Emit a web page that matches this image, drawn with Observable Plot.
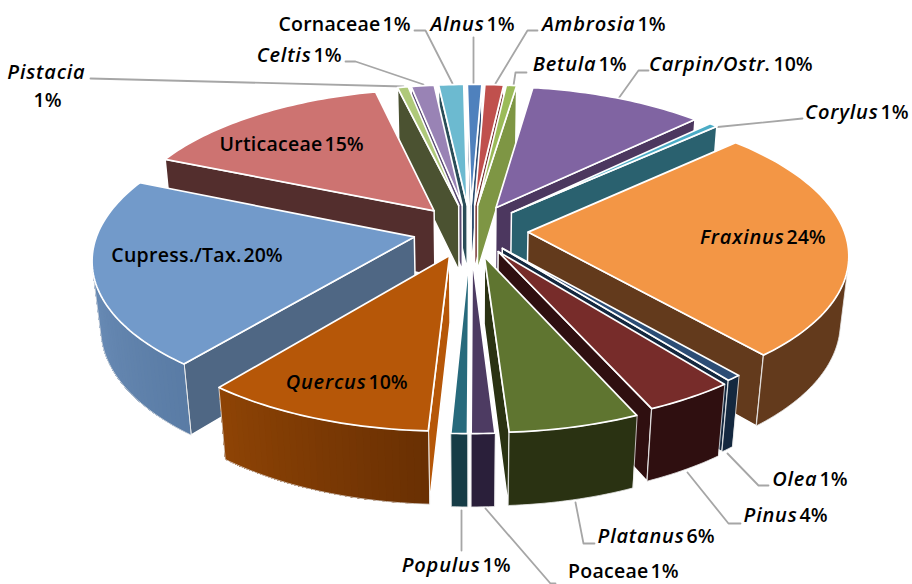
<!DOCTYPE html>
<html><head><meta charset="utf-8">
<script src="https://cdn.jsdelivr.net/npm/d3@7"></script>
<script src="https://cdn.jsdelivr.net/npm/@observablehq/plot@0.6"></script>
<style>html,body{margin:0;padding:0;background:#fff}svg{display:block}
.lbl-it text{letter-spacing:.8px}.lbl-pl text{letter-spacing:.25px}</style>
</head><body><div id="chart"></div>
<script>
// ---- data ----
const categories = ["Alnus","Ambrosia","Betula","Carpin/Ostr.","Corylus","Fraxinus","Olea","Pinus","Platanus","Poaceae","Populus","Quercus","Cupress./Tax.","Urticaceae","Pistacia","Celtis","Cornaceae"];
const shares = [0.85,1.1,0.6,10.25,0.5,25.6,0.65,3.9,5.65,1.0,0.7,10.0,20.55,14.85,0.63,1.35,1.47];
const percentLabels = ["1%","1%","1%","10%","1%","24%","1%","4%","6%","1%","1%","10%","20%","15%","1%","1%","1%"];
const italicNames = [true,true,true,true,true,true,true,true,true,false,true,true,false,false,true,true,false];
const explodeBy = [0.18,0.18,0.18,0.18,0.18,0.18,0.155,0.165,0.18,0.18,0.18,0.18,0.18,0.18,0.18,0.18,0.18];
// ---- styles ----
const topColors = ["#4f81bd","#c0504d","#9bbb59","#8064a2","#4bacc6","#f39645","#2c4d75","#772c2a","#5f7530","#4d3b62","#276a7c","#b65708","#729aca","#cd7371","#afc97a","#9983b5","#6cbad0"];
const sideColors = ["#2f4d71","#732f2e","#7e9644","#4c375f","#2a616f","#633a1c","#14283f","#2f0f10","#2a3212","#2a1f3a","#163c46","#b65708","#4f6784","#532e2d","#4b5231","#5a4a72","#2a4d58"];
const rimFrom = ["#2f4d71","#732f2e","#7e9644","#4c375f","#2a616f","#633a1c","#14283f","#2f0f10","#2a3212","#2a1f3a","#163c46","#6a3003","#5a7ca5","#532e2d","#4b5231","#5a4a72","#2a4d58"];
const rimTo = ["#2f4d71","#732f2e","#7e9644","#4c375f","#2a616f","#633a1c","#14283f","#2f0f10","#2a3212","#2a1f3a","#163c46","#8f4405","#6a8cb6","#532e2d","#4b5231","#5a4a72","#2a4d58"];
// ---- label layout: name end x, name y, percent start x, percent y ----
const labelLayout = [[484,24,486,24],[635,24,637,24],[596,64,598,64],[771,64,773,64],[878,112,880,112],[784,237,786,237],[817,479,819,479],[797,515,799,515],[684,536,686,536],[648,571,650,571],[480,565,482,565],[366,382,368,382],[241,255,243,255],[322,144,324,144],[85,72,33,100],[311,55,313,55],[380,24,382,24]];
const leaderLayout = [[[473,37],[473,83]],[[537,30],[527,30],[495,83]],[[526,72],[515,72],[513,85]],[[648,70],[638,70],[618,98]],[[802,118],[712,127]],[],[[768,485],[758,485],[727,453]],[[740,523],[728,523],[687,472]],[[594,543],[583,543],[575,502]],[[555,583],[550,583],[485,508]],[[461,510],[461,550]],[],[],[],[[90,78],[403,86]],[[345,61],[355,61],[423,84]],[[414,30],[425,30],[452,83]]];

// ---- 3D projection of the exploded pie ----
const cx = 470, cy = 230, A = 316, elev = Math.asin(0.455), persp = 0.155, thick = 0.24, rotate = -0.8 * Math.PI / 180;
function proj(X, Y, Z) {
  const w = 1 + persp * (Z * Math.cos(elev) - Y * 0.6);
  return [cx + A * X / w, cy - A * (Z * Math.sin(elev) + Y * Math.cos(elev)) / w];
}
const total = d3.sum(shares);
let cum = 0;
const slices = categories.map((name, i) => {
  const a0 = rotate + cum / total * 2 * Math.PI; cum += shares[i];
  const a1 = rotate + cum / total * 2 * Math.PI;
  const mid = (a0 + a1) / 2;
  return {i, name, a0, a1, mid, ox: explodeBy[i] * 1.012 * Math.sin(mid), oz: explodeBy[i] * 1.012 * Math.cos(mid)};
});
const ordered = slices.slice().sort((a, b) => Math.cos(b.mid) - Math.cos(a.mid));
const area = ps => d3.sum(ps, (p, k) => { const q = ps[(k + 1) % ps.length]; return p[0] * q[1] - q[0] * p[1]; });
const polys = [];
let pid = 0;
function pushPoly(ps, fill, stroke, sw) {
  const id = pid++;
  ps.forEach(p => polys.push({id, x: p[0], y: p[1], fill, stroke, sw}));
}
for (const s of ordered) {
  const n = Math.max(2, Math.ceil((s.a1 - s.a0) / 0.02));
  const ring = d3.range(n + 1).map(k => { const a = s.a0 + (s.a1 - s.a0) * k / n; return [s.ox + Math.sin(a), s.oz + Math.cos(a)]; });
  const apex = [s.ox, s.oz];
  const top = p => proj(p[0], 0, p[1]), bot = p => proj(p[0], -thick, p[1]);
  // radial walls
  for (const [p, q] of [[apex, ring[0]], [ring[n], apex]]) {
    const quad = [top(p), top(q), bot(q), bot(p)];
    if (area(quad) < 0) pushPoly(quad, sideColors[s.i], "#ffffff", 1.5);
  }
  // outer wall: overlapping bands shaded across the slice
  const mix = d3.interpolateRgb(rimFrom[s.i], rimTo[s.i]);
  const visible = d3.range(n).filter(k => area([top(ring[k]), top(ring[k + 1]), bot(ring[k + 1]), bot(ring[k])]) < 0);
  if (visible.length) {
    const idx = [visible[0], ...visible.map(k => k + 1)];
    const bands = rimFrom[s.i] === rimTo[s.i] ? 1 : idx.length - 1;
    for (let b = 0; b < bands; b++) {
      const run = idx.slice(b);
      pushPoly([...run.map(k => top(ring[k])), ...run.slice().reverse().map(k => bot(ring[k]))], mix(b / Math.max(1, idx.length - 1)), "none", 0);
    }
    pushPoly([...idx.map(k => top(ring[k])), ...idx.slice().reverse().map(k => bot(ring[k]))], "none", "#e8e8e8", 0.8);
  }
  // top face
  pushPoly([top(apex), ...ring.map(top)], topColors[s.i], "#ffffff", 1.7);
}
const leaders = leaderLayout.flatMap((pts, i) => pts.map(p => ({i, x: p[0], y: p[1]})));
const labels = categories.map((name, i) => ({name, pct: percentLabels[i], it: italicNames[i], nx: labelLayout[i][0], ny: labelLayout[i][1], px: labelLayout[i][2], py: labelLayout[i][3]}));
const font = {fontFamily: "'Open Sans', sans-serif", fontWeight: 600, fill: "#000", lineAnchor: "middle"};

const chart = Plot.plot({
  width: 912, height: 584, margin: 0,
  x: {domain: [0, 912], axis: null},
  y: {domain: [584, 0], axis: null},
  color: {type: "identity"},
  marks: [
    Plot.line(leaders, {x: "x", y: "y", z: "i", stroke: "#a6a6a6", strokeWidth: 1.8, curve: "linear"}),
    Plot.line(polys, {x: "x", y: "y", z: "id", fill: "fill", stroke: "stroke", strokeWidth: "sw", curve: "linear-closed", strokeLinejoin: "round"}),
    Plot.text(labels.filter(d => d.it), {x: "nx", y: "ny", text: "name", textAnchor: "end", fontStyle: "italic", fontSize: 20, className: "lbl-it", ...font}),
    Plot.text(labels.filter(d => !d.it), {x: "nx", y: "ny", text: "name", textAnchor: "end", fontSize: 19.5, className: "lbl-pl", ...font}),
    Plot.text(labels, {x: "px", y: "py", text: "pct", textAnchor: "start", fontSize: 19.5, ...font})
  ]
});
document.getElementById("chart").append(chart);
</script></body></html>
